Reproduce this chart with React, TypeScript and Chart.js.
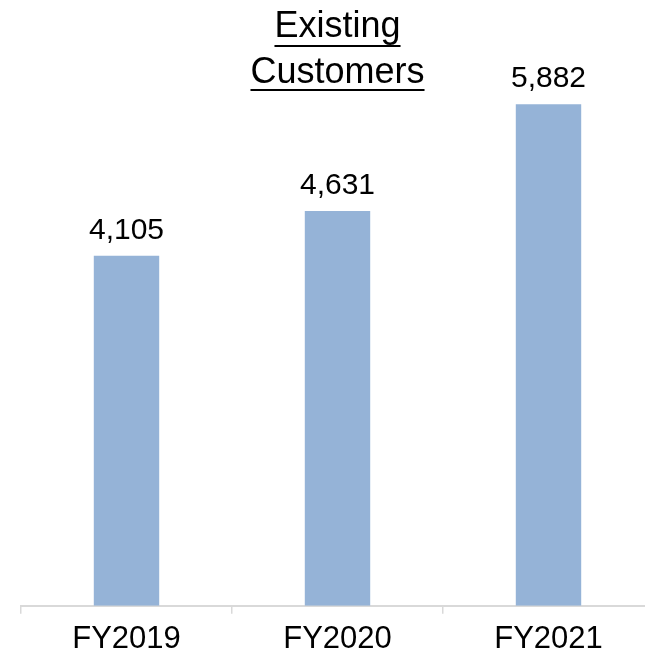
import React, { useEffect, useRef } from "react";
import { Chart, registerables } from "chart.js";

Chart.register(...registerables);

const categories = ["FY2019", "FY2020", "FY2021"];
const values = [4105, 4631, 5882];
const titleLines = ["Existing", "Customers"];

const FONT = "'Liberation Sans', Arial, sans-serif";

const labelsPlugin = {
  id: "labelsPlugin",
  afterDatasetsDraw(chart: any) {
    const ctx = chart.ctx;
    const meta = chart.getDatasetMeta(0);
    ctx.save();
    ctx.fillStyle = "#000";
    ctx.font = `30px ${FONT}`;
    ctx.textAlign = "center";
    ctx.textBaseline = "alphabetic";
    meta.data.forEach((bar: any, i: number) => {
      ctx.fillText(values[i].toLocaleString("en-US"), bar.x, bar.y - 17);
    });
    // title centered over middle bar
    const mid = meta.data[1];
    ctx.font = `36px ${FONT}`;
    const baselines = [37, 83];
    const underlines = [46, 90];
    titleLines.forEach((t, i) => {
      ctx.fillText(t, mid.x, baselines[i]);
      const w = ctx.measureText(t).width;
      ctx.fillRect(mid.x - w / 2, underlines[i] - 1, w, 2);
    });
    ctx.restore();
  },
};

export default function App() {
  const ref = useRef<HTMLCanvasElement>(null);
  useEffect(() => {
    if (!ref.current) return;
    const chart = new Chart(ref.current, {
      type: "bar",
      data: {
        labels: categories,
        datasets: [
          {
            data: values,
            backgroundColor: "#95B3D7",
            borderWidth: 0,
            categoryPercentage: 1,
            barPercentage: 0.31,
          },
        ],
      },
      options: {
        animation: false,
        responsive: false,
        devicePixelRatio: 1,
        layout: { padding: { left: 21, right: 6, top: 9, bottom: -7 } },
        plugins: { legend: { display: false }, tooltip: { enabled: false }, title: { display: false } },
        scales: {
          x: {
            offset: true,
            grid: {
              offset: true,
              drawOnChartArea: false,
              drawTicks: true,
              tickLength: 8,
              color: "#d9d9d9",
              lineWidth: 1.5,
            },
            border: { display: true, color: "#d9d9d9", width: 2 },
            ticks: { color: "#000", font: { family: FONT, size: 31 }, padding: 7 },
          },
          y: { display: false, min: 0, max: 7000 },
        },
      },
      plugins: [labelsPlugin],
    });
    return () => chart.destroy();
  }, []);
  return (
    <div style={{ position: "fixed", left: 0, top: 0, width: 645, height: 658, overflow: "hidden", background: "#fff" }}>
      <canvas ref={ref} width={660} height={658} style={{ display: "block" }} />
    </div>
  );
}
